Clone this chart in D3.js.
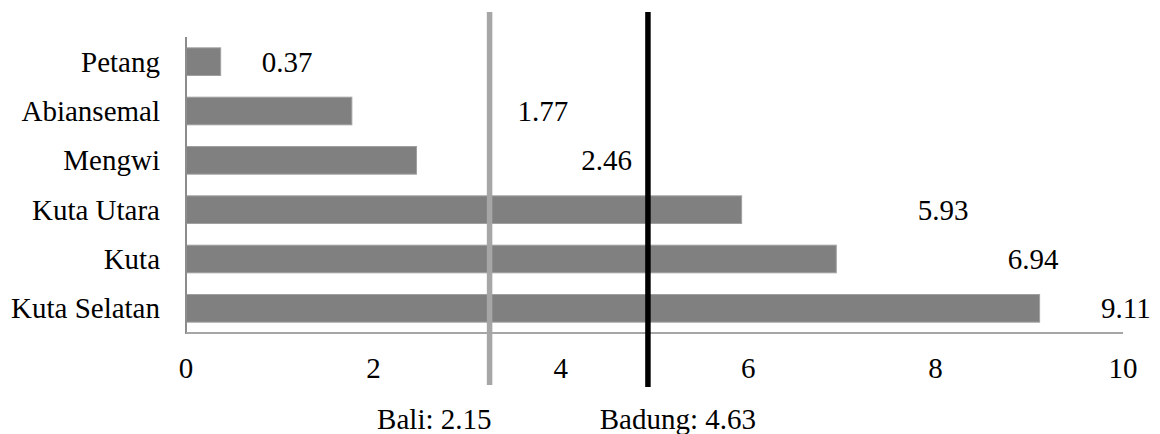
<!DOCTYPE html>
<html>
<head>
<meta charset="utf-8">
<script src="https://cdn.jsdelivr.net/npm/d3@7"></script>
<style>
    body { margin: 0; background: #fff; }
    svg text { font-family: "Liberation Serif", "DejaVu Serif", serif; font-size: 29px; fill: #000; }
</style>
</head>
<body>
<div id="chart"></div>
<script>
const districts = ["Petang", "Abiansemal", "Mengwi", "Kuta Utara", "Kuta", "Kuta Selatan"];
const values = [0.37, 1.77, 2.46, 5.93, 6.94, 9.11];
// where the value labels sit along the x axis (data units)
const labelAt = [1.08, 3.81, 4.49, 8.08, 9.04, 10.03];
const xTicks = [0, 2, 4, 6, 8, 10];

const refNames = ["Bali", "Badung"];
const refValues = [2.15, 4.63];
const refLineAt = [3.24, 4.93];
const refLabelAt = [2.65, 5.25];
const refColors = ["#a6a6a6", "#000000"];

const width = 1160, height = 434;
const serif = "'Liberation Serif', 'DejaVu Serif', serif";

const svg = d3.select("#chart").append("svg")
    .attr("width", width)
    .attr("height", height)
    .attr("font-family", serif)
    .attr("font-size", 29);

const x = d3.scaleLinear().domain([0, 10]).range([186, 1123]);
const y = d3.scaleBand().domain(districts).range([37, 333]).paddingInner(0.44).paddingOuter(0.22);

// bars
svg.append("g").selectAll("rect")
    .data(values)
    .enter()
    .append("rect")
    .attr("x", x(0))
    .attr("y", (d, i) => y(districts[i]))
    .attr("width", d => x(d) - x(0))
    .attr("height", y.bandwidth())
    .attr("fill", "#808080")
    .attr("stroke", "#a0a0a0")
    .attr("stroke-width", 1);

// axes lines
svg.append("line")
    .attr("x1", x(0)).attr("x2", x(0))
    .attr("y1", 37).attr("y2", 334)
    .attr("stroke", "#8c8c8c").attr("stroke-width", 2);
svg.append("line")
    .attr("x1", x(0)).attr("x2", x(10))
    .attr("y1", 333).attr("y2", 333)
    .attr("stroke", "#a6a6a6").attr("stroke-width", 2);

// category labels
svg.append("g").selectAll("text")
    .data(districts)
    .enter()
    .append("text")
    .attr("x", 160)
    .attr("y", d => y(d) + y.bandwidth() / 2)
    .attr("dy", "0.35em")
    .attr("text-anchor", "end")
    .text(d => d);

// x tick labels
svg.append("g").selectAll("text")
    .data(xTicks)
    .enter()
    .append("text")
    .attr("x", d => x(d))
    .attr("y", 378)
    .attr("text-anchor", "middle")
    .text(d => d);

// reference lines
svg.append("g").selectAll("line")
    .data(refLineAt)
    .enter()
    .append("line")
    .attr("x1", d => x(d)).attr("x2", d => x(d))
    .attr("y1", 12).attr("y2", (d, i) => i === 0 ? 385 : 387)
    .attr("stroke", (d, i) => refColors[i])
    .attr("stroke-width", 5.5);

// value labels
svg.append("g").selectAll("text")
    .data(values)
    .enter()
    .append("text")
    .attr("x", (d, i) => x(labelAt[i]))
    .attr("y", (d, i) => y(districts[i]) + y.bandwidth() / 2)
    .attr("dy", "0.35em")
    .attr("text-anchor", "middle")
    .text(d => d.toFixed(2));

// reference labels
svg.append("g").selectAll("text")
    .data(refNames)
    .enter()
    .append("text")
    .attr("x", (d, i) => x(refLabelAt[i]))
    .attr("y", 429)
    .attr("text-anchor", "middle")
    .text((d, i) => `${d}: ${refValues[i].toFixed(2)}`);
</script>
</body>
</html>
